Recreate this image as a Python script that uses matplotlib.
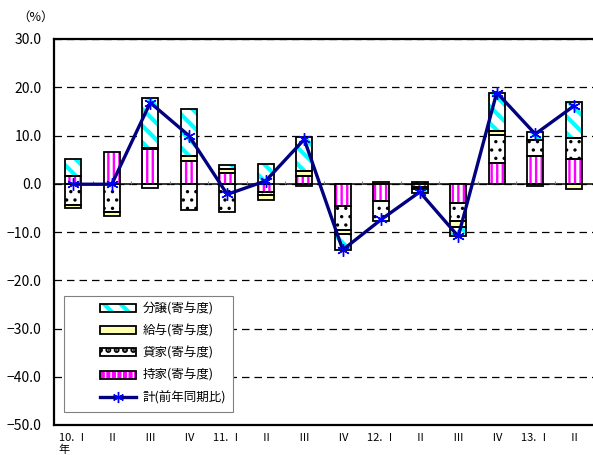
import numpy as np
import matplotlib
matplotlib.use("Agg")
import matplotlib.pyplot as plt
from matplotlib.patches import Patch, Rectangle
from matplotlib.lines import Line2D
from matplotlib.legend_handler import HandlerTuple

plt.rcParams['font.family'] = ['Noto Sans CJK JP', 'DejaVu Sans']

# quarterly contributions (percentage points) and year-on-year total (%)
quarters = ["10. Ⅰ\n年", "Ⅱ", "Ⅲ", "Ⅳ", "11. Ⅰ", "Ⅱ", "Ⅲ", "Ⅳ",
            "12. Ⅰ", "Ⅱ", "Ⅲ", "Ⅳ", "13. Ⅰ", "Ⅱ"]
owned    = [1.7, 6.6, 7.1, 4.8, 2.2, -1.7, 1.6, -4.6, -3.6, -0.6, -3.9, 4.2, 5.7, 5.2]
rental   = [-4.5, -5.8, -0.9, -5.4, -5.9, -0.7, -0.4, -4.9, -4.1, 0.4, -3.8, 5.9, 3.4, 4.3]
issued   = [-0.6, -0.8, 0.3, 1.0, 0.9, -1.0, 1.1, -0.9, 0.3, -0.5, -1.2, 0.9, -0.4, -1.0]
for_sale = [3.4, 0.0, 10.3, 9.6, 0.7, 4.0, 6.9, -3.3, 0.0, -0.9, -2.0, 7.9, 1.6, 7.4]
total    = [-0.1, -0.1, 16.8, 10.0, -2.2, 0.6, 9.2, -13.7, -7.4, -1.7, -10.9, 18.9, 10.3, 16.1]

y_ticks = [30, 20, 10, 0, -10, -20, -30, -40, -50]

series = [
    ("持家(寄与度)", owned,    dict(face="white",   hatch="|||",  hcolor="#FF00FF", hlw=1.7)),
    ("貸家(寄与度)", rental,   dict(face="white",   hatch="..",   hcolor="#000000", hlw=1.2)),
    ("給与(寄与度)", issued,   dict(face="#FFFFB0", hatch=None,   hcolor="#FFFFB0", hlw=1.0)),
    ("分譲(寄与度)", for_sale, dict(face="white",   hatch="\\\\", hcolor="#00FFFF", hlw=3.0)),
]

fig = plt.figure(figsize=(5.93, 4.55), dpi=100)
ax = fig.add_axes([54 / 593, 1 - 425 / 455, 539 / 593, 386 / 455])

x = np.arange(len(quarters))
width = 0.42
pos_base = np.zeros(len(x))
neg_base = np.zeros(len(x))
handles = {}

for label, vals, st in series:
    v = np.asarray(vals, dtype=float)
    bottom = np.where(v >= 0, pos_base, neg_base)
    mask = v != 0
    plt.rcParams['hatch.linewidth'] = st["hlw"]
    fill = ax.bar(x[mask], v[mask], width, bottom=bottom[mask], color=st["face"],
                  edgecolor=st["hcolor"], linewidth=0, hatch=st["hatch"], zorder=3)
    for p in fill:
        if hasattr(p, "set_hatch_linewidth"):
            p.set_hatch_linewidth(st["hlw"])
    ax.bar(x[mask], v[mask], width, bottom=bottom[mask], fill=False,
           edgecolor="black", linewidth=1.3, zorder=4)
    pos_base = pos_base + np.where(v > 0, v, 0)
    neg_base = neg_base + np.where(v < 0, v, 0)

    hp = Patch(facecolor=st["face"], edgecolor=st["hcolor"], linewidth=0, hatch=st["hatch"])
    if hasattr(hp, "set_hatch_linewidth"):
        hp.set_hatch_linewidth(st["hlw"])
    ho = Patch(fill=False, edgecolor="black", linewidth=1.3)
    handles[label] = (hp, ho)

ax.plot(x, total, color="#000080", lw=2.4, zorder=6,
        marker=(6, 2, 0), ms=9, mec="#0000FF", mfc="#0000FF", mew=1.0)

# axes styling
ax.set_xlim(-0.5, len(x) - 0.5)
ax.set_ylim(-50, 30)
ax.set_yticks(y_ticks)
ax.set_yticklabels([f"{t:.1f}".replace("-", "−") for t in y_ticks], fontsize=10)
ax.set_xticks(x)
xt = ax.set_xticklabels(quarters, fontsize=8)
xt[0].set_multialignment("left")
ax.tick_params(axis="y", length=0, pad=9)
ax.tick_params(axis="x", length=0, pad=6)
ax.set_axisbelow(True)
ax.grid(axis="y", color="black", lw=0.9, ls=(0, (6, 4)))
ax.axhline(0, color="black", lw=1.1, zorder=2)
ax.vlines(np.arange(1, len(x)) - 0.5, 0, 0.6, color="#808080", lw=0.8, zorder=2)
for s in ("left", "top", "bottom"):
    ax.spines[s].set_linewidth(1.6)
ax.spines["right"].set_visible(False)

fig.text(17 / 593, 1 - 17 / 455, "（%）", fontsize=9, va="center", ha="left")

# legend box
ax.add_patch(Rectangle((0.0186, 0.034), 0.3134, 0.300, transform=ax.transAxes,
                       facecolor="white", edgecolor="#808080", lw=0.8, zorder=7))
order = ["分譲(寄与度)", "給与(寄与度)", "貸家(寄与度)", "持家(寄与度)"]
leg_handles = [handles[k] for k in order]
leg_handles.append(Line2D([], [], color="#000080", lw=2.4, marker=(6, 2, 0), ms=8,
                          mec="#0000FF", mfc="#0000FF", mew=1.0))
leg = ax.legend(leg_handles, order + ["計(前年同期比)"],
                handler_map={tuple: HandlerTuple(ndivide=1, pad=0)},
                loc="upper left", bbox_to_anchor=(0.085, 0.318), frameon=False,
                borderaxespad=0, borderpad=0, fontsize=9, handlelength=2.9,
                handleheight=0.6, handletextpad=0.5, labelspacing=0.72)
leg.set_zorder(8)

fig.savefig("out.png", dpi=100)
